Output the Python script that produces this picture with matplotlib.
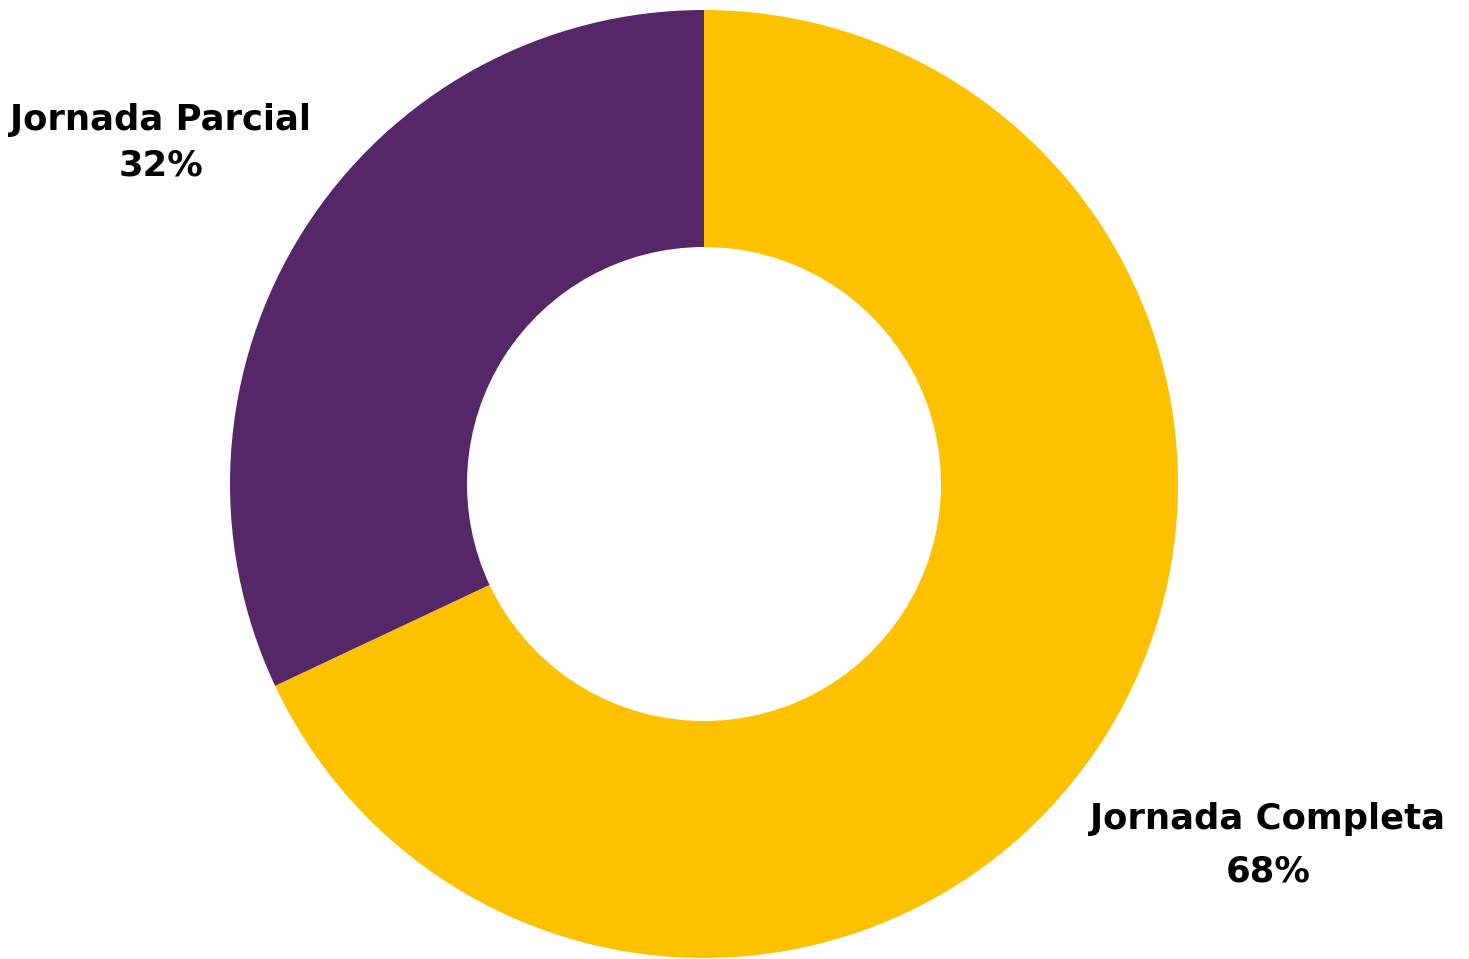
import matplotlib
matplotlib.use("Agg")
import matplotlib.pyplot as plt

labels = ["Jornada Completa", "Jornada Parcial"]
shares = [68, 32]
colors = ["#FDC100", "#562768"]

W, H = 1469, 959
fig = plt.figure(figsize=(W / 100, H / 100), dpi=100)
ax = fig.add_axes([0, 0, 1, 1])

cx, cy, r = 704, H - 484, 474
ax.pie(shares, colors=colors, startangle=90, counterclock=False,
       center=(cx, cy), radius=r, frame=True,
       wedgeprops=dict(width=r * 0.5, edgecolor="none"))
ax.set_xlim(0, W)
ax.set_ylim(0, H)
ax.set_aspect("equal")
ax.axis("off")

# label positions (pixel space, y from top): name line, value line
label_pos = {"Jornada Completa": (1268, 819, 871), "Jornada Parcial": (161, 120, 166)}
for lab, val in zip(labels, shares):
    x, y1, y2 = label_pos[lab]
    ax.text(x, H - y1, lab, ha="center", va="center", fontsize=25.5,
            fontweight="bold", family="DejaVu Sans", color="black")
    ax.text(x, H - y2, f"{val}%", ha="center", va="center", fontsize=25.5,
            fontweight="bold", family="DejaVu Sans", color="black")

fig.savefig("out.png", dpi=100)
